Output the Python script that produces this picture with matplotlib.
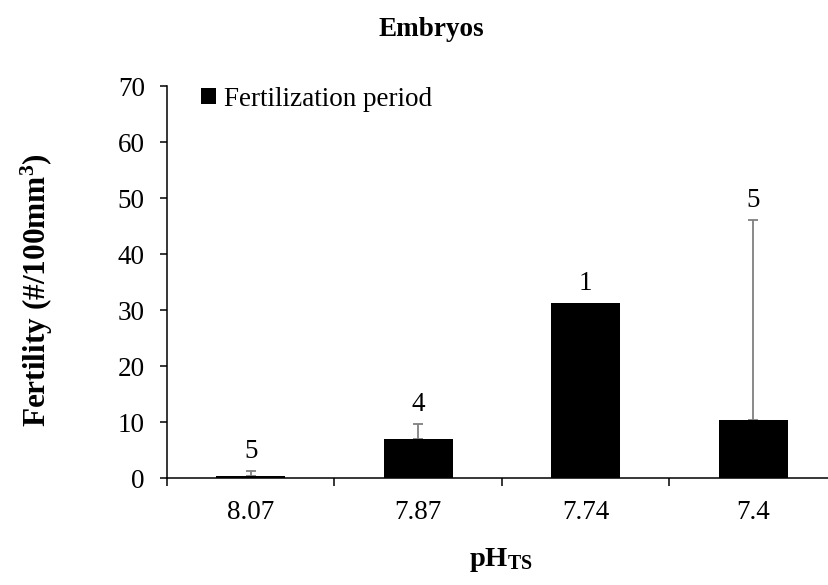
import matplotlib
matplotlib.use("Agg")
import matplotlib.pyplot as plt
import numpy as np

plt.rcParams['font.family'] = ['Liberation Serif', 'DejaVu Serif']
plt.rcParams['mathtext.fontset'] = 'custom'
plt.rcParams['mathtext.rm'] = 'Liberation Serif'
plt.rcParams['mathtext.bf'] = 'Liberation Serif:bold'
plt.rcParams['mathtext.it'] = 'Liberation Serif:italic'

categories = ["8.07", "7.87", "7.74", "7.4"]
values = [0.4, 7.0, 31.3, 10.4]
errors_upper = [0.8, 2.7, 0.0, 35.6]
n_labels = ["5", "4", "1", "5"]
series_name = "Fertilization period"

fig = plt.figure(figsize=(8.29, 5.85), dpi=100)
ax = fig.add_axes([167/829, 1 - 478/585, (837 - 167)/829, (478 - 86)/585])

x = np.arange(len(categories))
vals = np.array(values)
errs = np.array(errors_upper)
ax.bar(x, vals, width=0.41, color='black', label=series_name, zorder=2)
m = errs > 0
ax.errorbar(x[m], vals[m], yerr=[np.zeros(m.sum()), errs[m]], fmt='none',
            ecolor='#808080', elinewidth=1.3, capsize=3.8, capthick=1.3, zorder=1)

for xi, v, e, lab in zip(x, vals, errs, n_labels):
    ax.annotate(lab, (xi, v + e), xytext=(0, 5), textcoords='offset points',
                ha='center', va='bottom', fontsize=19.5)

ax.set_xlim(-0.5, 3.5)
ax.set_ylim(0, 70)
ax.set_yticks(np.arange(0, 71, 10))
ax.set_xticks(x)
ax.set_xticklabels(categories)
ax.set_xticks(np.arange(-0.5, 4, 1.0), minor=True)
ax.tick_params(axis='x', which='major', length=0, pad=16, labelsize=19.5)
ax.tick_params(axis='x', which='minor', length=6, width=1.1, direction='out')
ax.tick_params(axis='y', length=5, width=1.1, direction='out', labelsize=19.5, pad=11)

for s in ['top', 'right']:
    ax.spines[s].set_visible(False)
for s in ['left', 'bottom']:
    ax.spines[s].set_linewidth(1.1)

fig.text(37/829, 1 - 290/585, r"Fertility (#/100mm$^{\mathbf{3}}$)", rotation=90,
         ha='center', va='center', fontsize=22.5, fontweight='bold')
fig.text(501/829, 1 - 560/585, r"pH$_{\mathbf{TS}}$", ha='center', va='center',
         fontsize=20.5, fontweight='bold')
fig.text(431/829, 1 - 30/585, "Embryos", ha='center', va='center', fontsize=19.5, fontweight='bold')

leg = ax.legend(loc='upper left', bbox_to_anchor=(0.026, 1.04), frameon=False,
                fontsize=19.5, handlelength=0.55, handleheight=0.55, handletextpad=0.3,
                borderaxespad=0.2)

fig.savefig("out.png", dpi=100)
